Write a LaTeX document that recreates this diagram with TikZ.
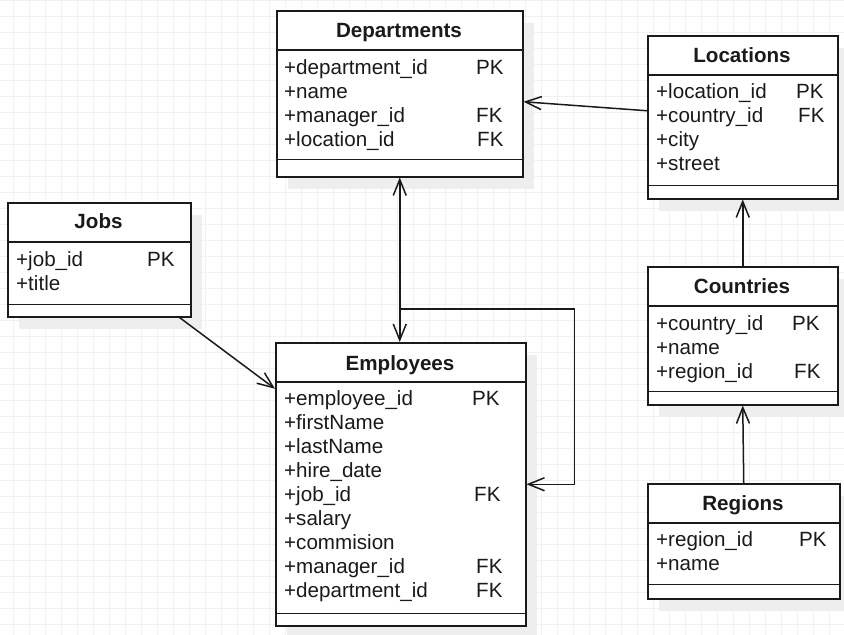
\documentclass[tikz,border=0pt]{standalone}
\usepackage{fontspec}
\setsansfont{Liberation Sans}
\usetikzlibrary{arrows.meta, calc, shadows}
\definecolor{ink}{HTML}{1A1A1A}
\definecolor{gridc}{HTML}{F1F1F1}
\definecolor{shade}{HTML}{EEEEEE}
\tikzset{
  font=\sffamily\fontsize{20.6}{24}\selectfont,
  >={Straight Barb[length=16pt, width=13pt]},
  %
  tbl/.style={
    draw=ink, line width=1.5pt, fill=white, inner sep=0pt, anchor=north west,
    drop shadow={shadow xshift=11pt, shadow yshift=-12pt, fill=shade, opacity=1},
  },
  ttl/.style={font=\sffamily\bfseries\fontsize{20.6}{24}\selectfont, text=ink,
              anchor=base, inner sep=0pt},
  fld/.style={text=ink, anchor=base west, inner sep=0pt},
  sep/.style={draw=ink, line width=1.5pt},
  %
  rel/.style={draw=ink, line width=1.5pt, ->},
  gridline/.style={draw=gridc, line width=0.9pt},
}

\begin{document}
\begin{tikzpicture}[x=1pt, y=-1pt]

\useasboundingbox (0,0) rectangle (844,635);
\fill[white] (0,0) rectangle (844,635);
\foreach \gx in {13,29,...,845} \draw[gridline] (\gx,0) -- (\gx,635);
\foreach \gy in {0,16,...,640} \draw[gridline] (0,\gy) -- (844,\gy);

% =========================================================================
% Departments
\node[tbl, minimum width=246pt, minimum height=166pt] (dept) at (276,10) {};
\node[ttl] (dept-t) at (399,37) {Departments};
\draw[sep] ([yshift=-40pt]dept.north west) -- ([yshift=-40pt]dept.north east);
\draw[sep] ([yshift=18pt]dept.south west) -- ([yshift=18pt]dept.south east);
\node[fld] (dept-1) at (284,74) {+department\_id};
\node[fld] (dept-1k) at (476,74) {PK};
\node[fld] (dept-2) at (284,98) {+name};
\node[fld] (dept-3) at (284,122) {+manager\_id};
\node[fld] (dept-3k) at (476,122) {FK};
\node[fld] (dept-4) at (284,146) {+location\_id};
\node[fld] (dept-4k) at (477,146) {FK};

% =========================================================================
% Locations
\node[tbl, minimum width=190pt, minimum height=163pt] (loc) at (647,35) {};
\node[ttl] (loc-t) at (742,62) {Locations};
\draw[sep] ([yshift=-40pt]loc.north west) -- ([yshift=-40pt]loc.north east);
\draw[sep] ([yshift=14pt]loc.south west) -- ([yshift=14pt]loc.south east);
\node[fld] (loc-1) at (656,98) {+location\_id};
\node[fld] (loc-1k) at (796,98) {PK};
\node[fld] (loc-2) at (656,122) {+country\_id};
\node[fld] (loc-2k) at (798,122) {FK};
\node[fld] (loc-3) at (656,146) {+city};
\node[fld] (loc-4) at (656,170) {+street};

% =========================================================================
% Jobs
\node[tbl, minimum width=183pt, minimum height=114pt] (jobs) at (7,202) {};
\node[ttl] (jobs-t) at (98.5,228) {Jobs};
\draw[sep] ([yshift=-40pt]jobs.north west) -- ([yshift=-40pt]jobs.north east);
\draw[sep] ([yshift=13pt]jobs.south west) -- ([yshift=13pt]jobs.south east);
\node[fld] (jobs-1) at (16,266) {+job\_id};
\node[fld] (jobs-1k) at (147,266) {PK};
\node[fld] (jobs-2) at (16,290) {+title};

% =========================================================================
% Employees
\node[tbl, minimum width=250pt, minimum height=283pt] (emp) at (275,342) {};
\node[ttl] (emp-t) at (400,370) {Employees};
\draw[sep] ([yshift=-40pt]emp.north west) -- ([yshift=-40pt]emp.north east);
\draw[sep] ([yshift=13pt]emp.south west) -- ([yshift=13pt]emp.south east);
\node[fld] (emp-1) at (284,405) {+employee\_id};
\node[fld] (emp-1k) at (472,405) {PK};
\node[fld] (emp-2) at (284,429) {+firstName};
\node[fld] (emp-3) at (284,453) {+lastName};
\node[fld] (emp-4) at (284,477) {+hire\_date};
\node[fld] (emp-5) at (284,501) {+job\_id};
\node[fld] (emp-5k) at (474,501) {FK};
\node[fld] (emp-6) at (284,525) {+salary};
\node[fld] (emp-7) at (284,549) {+commision};
\node[fld] (emp-8) at (284,573) {+manager\_id};
\node[fld] (emp-8k) at (476,573) {FK};
\node[fld] (emp-9) at (284,597) {+department\_id};
\node[fld] (emp-9k) at (476,597) {FK};

% =========================================================================
% Countries
\node[tbl, minimum width=190pt, minimum height=138pt] (cty) at (647,266) {};
\node[ttl] (cty-t) at (742,293) {Countries};
\draw[sep] ([yshift=-40pt]cty.north west) -- ([yshift=-40pt]cty.north east);
\draw[sep] ([yshift=14pt]cty.south west) -- ([yshift=14pt]cty.south east);
\node[fld] (cty-1) at (656,330) {+country\_id};
\node[fld] (cty-1k) at (792,330) {PK};
\node[fld] (cty-2) at (656,354) {+name};
\node[fld] (cty-3) at (656,378) {+region\_id};
\node[fld] (cty-3k) at (794,378) {FK};

% =========================================================================
% Regions
\node[tbl, minimum width=192pt, minimum height=115pt] (reg) at (647,483) {};
\node[ttl] (reg-t) at (743,510) {Regions};
\draw[sep] ([yshift=-40pt]reg.north west) -- ([yshift=-40pt]reg.north east);
\draw[sep] ([yshift=15pt]reg.south west) -- ([yshift=15pt]reg.south east);
\node[fld] (reg-1) at (656,546) {+region\_id};
\node[fld] (reg-1k) at (799,546) {PK};
\node[fld] (reg-2) at (656,570) {+name};

% =========================================================================
% relations
\draw[rel] ([yshift=6.5pt]loc.west) -- ([yshift=-8pt]dept.east);
\draw[rel, <->] (dept.south) -- (dept.south |- emp.north);
\coordinate (fork) at (dept.south |- 0,309);
\draw[rel] (fork) -| ([xshift=48pt]emp.east) -- (emp.east);
\draw[rel] ([xshift=-12pt]jobs.south east) -- ([yshift=95.5pt]emp.west);
\draw[rel] (cty.north) -- (loc.south);
\draw[rel] (reg.north) -- (cty.south);

\end{tikzpicture}
\end{document}
